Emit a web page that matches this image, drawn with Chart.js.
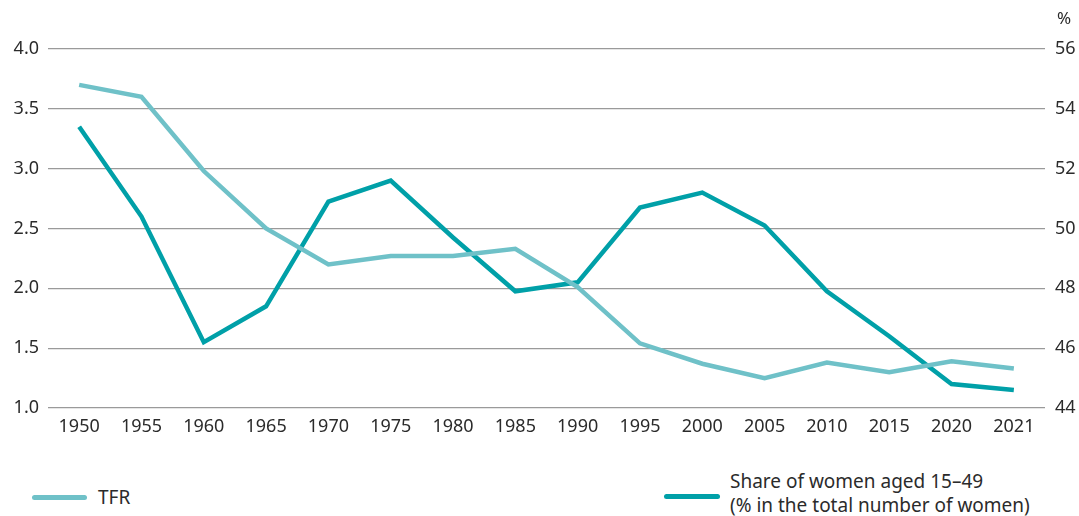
<!DOCTYPE html>
<html>
<head>
<meta charset="utf-8">
<script src="https://cdn.jsdelivr.net/npm/chart.js@4/dist/chart.umd.min.js"></script>
<style>
  body { margin: 0; background: #fff; font-family: "Noto Sans", sans-serif; color: #2b2b2b; }
  #wrap { position: relative; width: 1079px; height: 516px; }
  #chart-box { position: absolute; left: 0; top: 0; width: 1079px; height: 445px; }
  .unit { position: absolute; left: 1057px; top: 6px; font-size: 17px; }
  .leg-line { position: absolute; height: 5px; border-radius: 3px; }
  .leg-text { position: absolute; font-size: 19px; line-height: 24px; }
</style>
</head>
<body>
<div id="wrap">
  <div id="chart-box"><canvas id="chart"></canvas></div>
  <div class="unit">%</div>
  <div class="leg-line" style="left:32px; top:495px; width:55px; background:#6fc1c8;"></div>
  <div class="leg-text" style="left:98px; top:485px;">TFR</div>
  <div class="leg-line" style="left:664px; top:494px; width:56px; background:#00a0a8;"></div>
  <div class="leg-text" style="left:730px; top:469px;">Share of women aged 15–49<br>(% in the total number of women)</div>
</div>
<script>
const YEARS = ["1950","1955","1960","1965","1970","1975","1980","1985","1990","1995","2000","2005","2010","2015","2020","2021"];
const TFR = [3.70, 3.60, 2.98, 2.50, 2.20, 2.27, 2.27, 2.33, 2.01, 1.54, 1.37, 1.25, 1.38, 1.30, 1.39, 1.33];
const SHARE_WOMEN = [53.4, 50.4, 46.2, 47.4, 50.9, 51.6, 49.7, 47.9, 48.2, 50.7, 51.2, 50.1, 47.9, 46.4, 44.8, 44.6];

const TICK_FONT = { family: "Noto Sans", size: 18 };

new Chart(document.getElementById("chart").getContext("2d"), {
    type: "line",
    data: {
        labels: YEARS,
        datasets: [
            {
                label: "TFR",
                data: TFR,
                yAxisID: "y",
                borderColor: "#6fc1c8",
                borderWidth: 4.5,
                pointRadius: 0,
                tension: 0,
                fill: false
            },
            {
                label: "Share of women aged 15–49 (% in the total number of women)",
                data: SHARE_WOMEN,
                yAxisID: "y2",
                borderColor: "#00a0a8",
                borderWidth: 4.5,
                pointRadius: 0,
                tension: 0,
                fill: false
            }
        ]
    },
    options: {
        responsive: true,
        maintainAspectRatio: false,
        animation: false,
        layout: { padding: { top: 49, left: 0, right: 0, bottom: 0 } },
        plugins: { legend: { display: false }, tooltip: { enabled: false } },
        scales: {
            x: {
                offset: true,
                grid: { display: false, drawTicks: false },
                border: { display: false },
                ticks: { color: "#2b2b2b", font: TICK_FONT, padding: 8, maxRotation: 0, autoSkip: false },
                afterFit: function(s) { s.height = 37; }
            },
            y: {
                position: "left",
                min: 1, max: 4,
                ticks: { stepSize: 0.5, color: "#2b2b2b", font: TICK_FONT, padding: 9,
                         callback: function(v) { return v.toFixed(1); } },
                grid: { color: "#9a9a9a", lineWidth: 1.2, drawTicks: false },
                border: { display: false },
                afterFit: function(s) { s.width = 48; }
            },
            y2: {
                position: "right",
                min: 44, max: 56,
                ticks: { stepSize: 2, color: "#2b2b2b", font: TICK_FONT, padding: 10 },
                grid: { display: false, drawTicks: false },
                border: { display: false },
                afterFit: function(s) { s.width = 34; }
            }
        }
    }
});
</script>
</body>
</html>
